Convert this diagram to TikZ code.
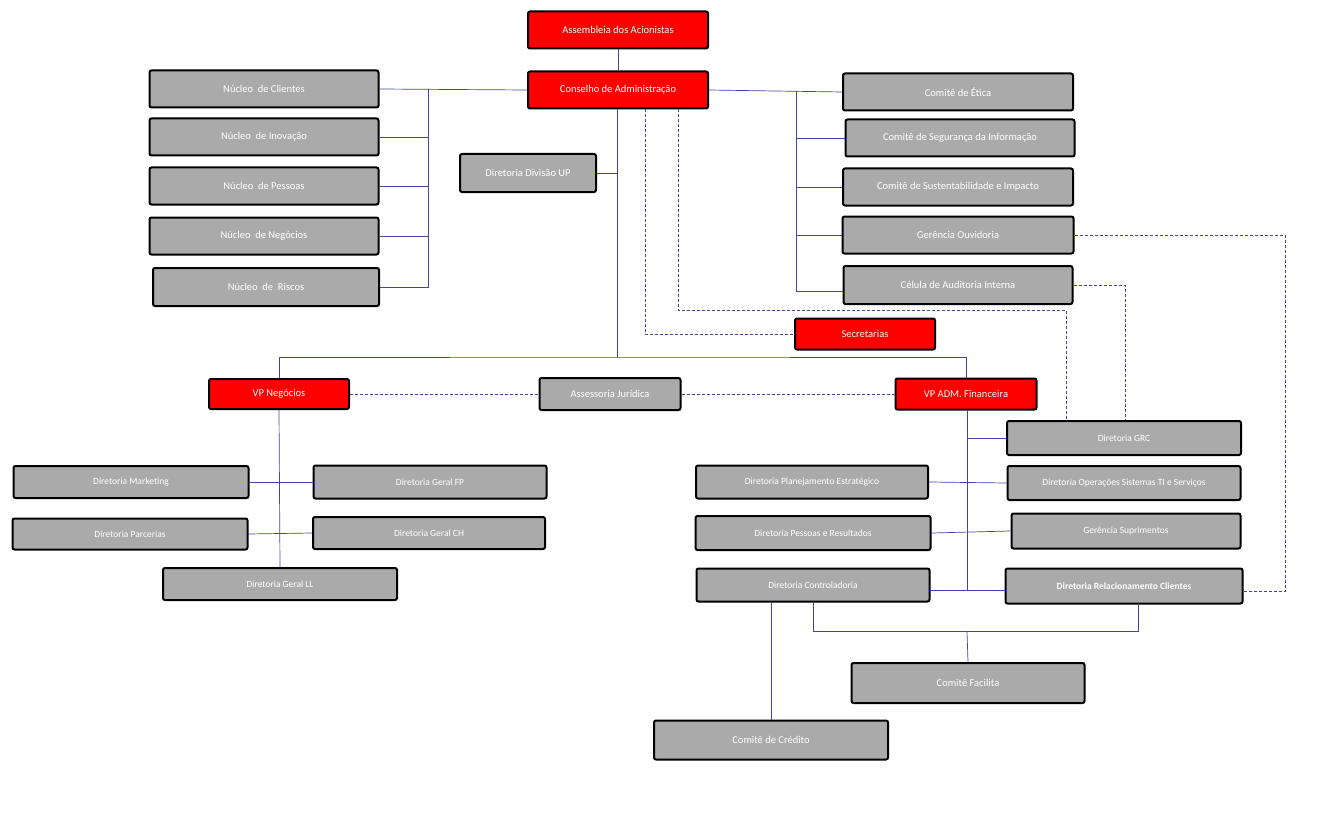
\documentclass[tikz,border=0pt]{standalone}
\usepackage{fontspec}
\setmainfont{Carlito}
\begin{document}
\begin{tikzpicture}[x=1pt,y=-1pt,
 box/.style={draw=black,line width=2pt,rounded corners=2pt,fill=gray!70!white!95,text=white,font=\fontsize{10.5}{12}\selectfont,inner sep=0pt},
 red/.style={box,fill=red},
 sm/.style={font=\fontsize{9.5}{11}\selectfont},
 ln/.style={draw=blue!40!gray!90!black,line width=0.7pt},
 dl/.style={ln,dashed,dash pattern=on 3pt off 2pt}]
\fill[white] (0,0) rectangle (1323,832);
\def\B#1#2#3#4#5#6#7{\node[#1,minimum width=#4,minimum height=#5] (#2) at (#3) {#6};}
\B{red}{ass}{618,30}{180}{37}{Assembleia dos Acionistas}{}
\B{red}{con}{618,90}{180}{37}{Conselho de Administração}{}
\B{box}{n1}{264,89}{229}{37}{Núcleo\ \ de Clientes}{}
\B{box}{n2}{264,137}{229}{37}{Núcleo\ \ de Inovação}{}
\B{box}{n3}{264,186}{229}{37}{Núcleo\ \ de Pessoas}{}
\B{box}{n4}{264,236}{229}{37}{Núcleo\ \ de Negócios}{}
\B{box}{n5}{266,287}{226}{38}{Núcleo\ \ de\ \ Riscos}{}
\B{box}{up}{528,173}{136}{38}{Diretoria Divisão UP}{}
\B{box}{c1}{958,92}{230}{37}{Comitê de Ética}{}
\B{box}{c2}{960,138}{229}{37}{Comitê de Segurança da Informação}{}
\B{box}{c3}{958,187}{230}{37}{Comitê de Sustentabilidade e Impacto}{}
\B{box}{c4}{958,235}{231}{37}{Gerência Ouvidoria}{}
\B{box}{c5}{958,285}{229}{38}{Célula de Auditoria Interna}{}
\B{red}{sec}{865,334}{140}{31}{Secretarias}{}
\B{red}{vpn}{279,394}{140}{30}{VP Negócios}{}
\B{box}{asj}{610,394}{141}{32}{Assessoria Jurídica}{}
\B{red}{vpa}{966,394}{141}{31}{VP ADM. Financeira}{}
\B{box,sm}{grc}{1124,438}{234}{34}{Diretoria GRC}{}
\B{box,sm}{mk}{131,482}{235}{32}{Diretoria Marketing}{}
\B{box,sm}{fp}{430,482}{233}{33}{Diretoria Geral FP}{}
\B{box,sm}{pa}{130,534}{235}{31}{Diretoria Parcerias}{}
\B{box,sm}{ch}{429,533}{232}{32}{Diretoria Geral CH}{}
\B{box,sm}{ll}{280,584}{234}{32}{Diretoria Geral LL}{}
\B{box,sm}{pl}{812,482}{232}{33}{Diretoria Planejamento Estratégico}{}
\B{box,sm}{op}{1124,483}{233}{34}{Diretoria Operações Sistemas TI e Serviços}{}
\B{box,sm}{pr}{813,533}{235}{34}{Diretoria Pessoas e Resultados}{}
\B{box,sm}{su}{1126,531}{229}{35}{Gerência Suprimentos}{}
\B{box,sm}{ct}{813,585}{233}{33}{Diretoria Controladoria}{}
\B{box,sm}{rc}{1124,586}{237}{35}{\bfseries Diretoria Relacionamento Clientes}{}
\B{box}{fa}{968,683}{233}{40}{Comitê Facilita}{}
\B{box}{cr}{771,740}{234}{39}{Comitê de Crédito}{}
% solid
\draw[ln] (ass) -- (con);
\draw[ln] (con.west) -- (n1.east);
\coordinate (bl) at (428,89); \coordinate (bl2) at (428,287);
\draw[ln] (bl) -- (bl2) -- (n5.east);
\foreach \n in {n2,n3,n4} \draw[ln] (n1.east -| bl) |- (\n.east);
\draw[ln] (con.east) -- (c1.west);
\coordinate (br) at (796,91); \coordinate (br2) at (796,291);
\draw[ln] (br) -- (br2) -- (c5.west |- br2);
\foreach \n in {c2,c3,c4} \draw[ln] (br |- \n.west) -- (\n.west);
\coordinate (cb) at (617,357);
\draw[ln] (con.south -| cb) -- (cb);
\draw[ln] (up.east) -- (up.east -| cb);
\draw[ln] (vpn.north) |- (cb) -| (vpa.north);
% dashed
\draw[dl] (vpn.east) -- (asj.west); \draw[dl] (asj.east) -- (vpa.west);
\draw[dl] (645,109) |- (sec.west);
\draw[dl] (678,109) |- (1066,310) -- (grc.north -| 1066,0);
\draw[dl] (c5.east) -| (grc.north -| 1125,0);
\draw[dl] (c4.east) -| (1285,591) -- (rc.east |- 0,591);
% VP Negocios
\draw[ln] (vpn.south) -- (ll.north);
\draw[ln] (mk.east) -- (fp.west); \draw[ln] (pa.east) -- (ch.west);
% VP ADM
\coordinate (va) at (967,591);
\draw[ln] (vpa.south -| va) -- (va);
\draw[ln] (va |- grc.west) -- (grc.west);
\draw[ln] (pl.east) -- (op.west); \draw[ln] (pr.east) -- (su.west);
\draw[ln] (ct.east |- 0,590) -- (rc.west |- 0,590);
\draw[ln] (ct.south) |- (1138,631) -- (rc.south -| 1138,0);
\draw[ln] (967,631) -- (fa.north);
\draw[ln] (ct.south -| 771,0) -- (cr.north);
\end{tikzpicture}
\end{document}
